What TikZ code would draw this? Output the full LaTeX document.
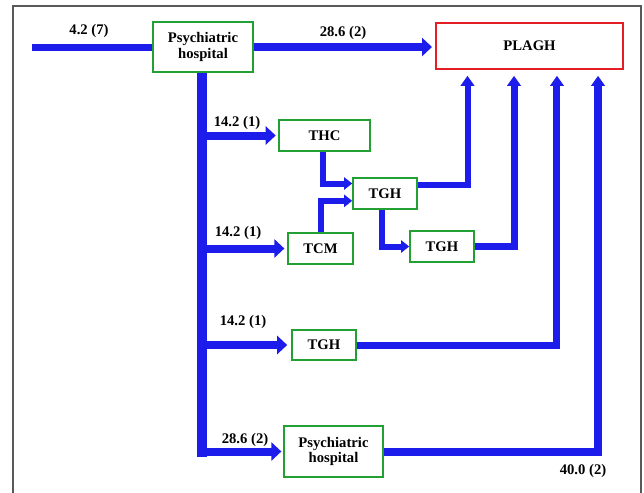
\documentclass[tikz,border=0pt]{standalone}
\usepackage{fontspec}
\setmainfont{Liberation Serif}
\usepackage{tikz}
\usepackage{xcolor}
\usetikzlibrary{arrows.meta}

\definecolor{flowblue}{RGB}{28,28,235}
\definecolor{boxgreen}{RGB}{34,160,52}
\definecolor{boxred}{RGB}{228,30,36}

\begin{document}
\begin{tikzpicture}[x=0.75pt,y=-0.75pt,
  box/.style={draw=boxgreen,line width=1.2pt,fill=white,inner sep=0pt,align=center,
    font=\fontsize{11}{11.5}\selectfont\bfseries},
  lab/.style={font=\fontsize{11}{12}\selectfont\bfseries},
  bigarrow/.style={flowblue,line width=6pt,-{Triangle[width=13.5pt,length=7.5pt]}},
  uparrow/.style={flowblue,line width=5.25pt,-{Triangle[width=10pt,length=7.5pt]}},
  link/.style={flowblue,line width=4.5pt,-{Triangle[width=9pt,length=6pt]}}]
\useasboundingbox (0,0) rectangle (644,493);
\draw[gray!70!black,line width=0.9pt] (13,493) -- (13,6) -- (641,6) -- (641,493);

% boxes
\node[box,minimum width=75pt,minimum height=37.5pt] (ph1) at (203,47) {Psychiatric\\hospital};
\node[box,draw=boxred,minimum width=140pt,minimum height=34.5pt] (plagh) at (529.5,46) {PLAGH};
\node[box,minimum width=68pt,minimum height=23pt] (thc) at (324.5,135.5) {THC};
\node[box,minimum width=48pt,minimum height=23pt] (tgha) at (385,193.5) {TGH};
\node[box,minimum width=49pt,minimum height=23pt] (tcm) at (320.5,248.5) {TCM};
\node[box,minimum width=48pt,minimum height=23pt] (tghb) at (442,246.5) {TGH};
\node[box,minimum width=48pt,minimum height=22.5pt] (tghc) at (324,345) {TGH};
\node[box,minimum width=74pt,minimum height=38pt] (ph2) at (333.5,451.5) {Psychiatric\\hospital};

\coordinate (in) at (32,47);
\coordinate (trunk) at (202,457);
\coordinate (p1) at ([xshift=-46.5pt]plagh.south);
\coordinate (p2) at ([xshift=-11.6pt]plagh.south);
\coordinate (p3) at ([xshift=20.6pt]plagh.south);
\coordinate (p4) at ([xshift=51.4pt]plagh.south);

% flows
\draw[flowblue,line width=5.25pt] (in) -- (ph1.west);
\draw[bigarrow,shorten >=2.5pt] (ph1.east) -- (ph1.east -| plagh.west);
\draw[flowblue,line width=7.5pt] ([xshift=-0.75pt]ph1.south) -- (trunk);
\draw[bigarrow,shorten >=2pt] ([xshift=-0.75pt]ph1.south |- thc.west) -- (thc.west);
\draw[bigarrow,shorten >=2pt] ([xshift=-0.75pt]ph1.south |- tcm.west) -- (tcm.west);
\draw[bigarrow,shorten >=3pt] ([xshift=-0.75pt]ph1.south |- tghc.west) -- (tghc.west);
\draw[bigarrow,shorten >=1.5pt] ([xshift=-0.75pt]ph1.south |- ph2.west) -- (ph2.west);

\draw[link] ([xshift=-1pt]thc.south) |- ([yshift=7.5pt]tgha.west);
\draw[link] (tcm.north) |- ([yshift=-5.5pt]tgha.west);
\draw[link] ([xshift=-2.25pt]tgha.south) |- (tghb.west);

\draw[uparrow,line width=4.5pt,shorten >=4.5pt] ([yshift=6.4pt]tgha.east) -| (p1);
\draw[uparrow,shorten >=4.5pt] (tghb.east) -| (p2);
\draw[uparrow,shorten >=4.5pt] (tghc.east) -| (p3);
\draw[uparrow,line width=6pt,shorten >=4.5pt] (ph2.east) -| (p4);

% labels
\node[lab] (l1) at (89,31) {4.2 (7)};
\node[lab] (l2) at (343,33) {28.6 (2)};
\node[lab] (l3) at (237,123) {14.2 (1)};
\node[lab] (l4) at (238,233) {14.2 (1)};
\node[lab] (l5) at (243,322) {14.2 (1)};
\node[lab] (l6) at (245,440) {28.6 (2)};
\node[lab] (l7) at (583,471) {40.0 (2)};
\end{tikzpicture}
\end{document}
